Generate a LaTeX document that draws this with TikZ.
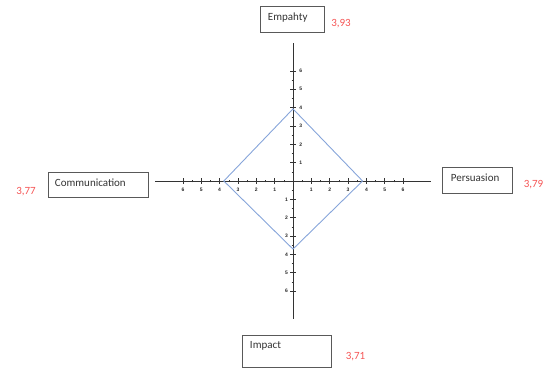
\documentclass[tikz,border=0pt]{standalone}
\usepackage{fontspec}
\setmainfont{Carlito}
\setsansfont{Liberation Sans}
\definecolor{diamondblue}{RGB}{135,165,218}
\definecolor{valred}{RGB}{245,85,85}
\tikzset{
	catbox/.style={draw=black!65,line width=0.8pt,align=left,inner ysep=0pt,text=black!80,font=\fontsize{11}{13}\selectfont},
	value/.style={text=valred,inner sep=0pt,font=\fontsize{11}{13}\selectfont},
	ticklabel/.style={inner sep=0pt,text=black!85,font=\sffamily\bfseries\fontsize{5}{6}\selectfont}
}
\begin{document}
\begin{tikzpicture}
		\useasboundingbox (-293pt,-188pt) rectangle (251pt,181pt);
		\node[catbox,inner xsep=8pt,text width=48pt,text height=14.5pt,text depth=11.5pt] (emp) at (-1pt,162pt) {Empahty};
		\node[value] (empval) at (48pt,157pt) {3,93};
		\node[catbox,inner xsep=7pt,text width=86pt,text height=14.5pt,text depth=10.5pt] (com) at (-195pt,-3.5pt) {Communication};
		\node[value] (comval) at (-267pt,-11pt) {3,77};
		\node[catbox,inner xsep=9pt,text width=52pt,text height=14.5pt,text depth=11.5pt] (per) at (184pt,1pt) {Persuasion};
		\node[value] (perval) at (240.5pt,-3.3pt) {3,79};
		\node[catbox,inner xsep=8pt,text width=73pt,text height=13.5pt,text depth=18.5pt] (imp) at (-6.5pt,-170pt) {Impact};
		\node[value] (impval) at (62.5pt,-176pt) {3,71};
		\begin{scope}[x=18.35pt,y=18.35pt]
			\draw[black!80,line width=0.7pt] (-7.5,0) -- (7.5,0);
			\draw[black!80,line width=0.7pt] (0,-7.5) -- (0,7.5);
			\foreach \t in {-6,-5.5,...,6} {
				\draw[black!80,line width=0.5pt] (\t,-0.08) -- (\t,0.08);
				\draw[black!80,line width=0.5pt] (-0.08,\t) -- (0.08,\t);
			}
			\foreach \t in {1,...,6} {
				\draw[black!80,line width=0.6pt] (\t,-0.15) -- (\t,0.15);
				\draw[black!80,line width=0.6pt] (-\t,-0.15) -- (-\t,0.15);
				\draw[black!80,line width=0.6pt] (-0.15,\t) -- (0.15,\t);
				\draw[black!80,line width=0.6pt] (-0.15,-\t) -- (0.15,-\t);
				\node[ticklabel] (xp\t) at (\t,-0.5) {\t};
				\node[ticklabel] (xn\t) at (-\t,-0.5) {\t};
				\node[ticklabel] (yp\t) at (0.42,\t) {\t};
				\node[ticklabel] (yn\t) at (-0.35,-\t) {\t};
			}
			\draw[diamondblue,line width=0.9pt] (0,3.93) -- (3.79,0) -- (0,-3.71) -- (-3.77,0) -- cycle;
		\end{scope}
	\end{tikzpicture}
\end{document}
